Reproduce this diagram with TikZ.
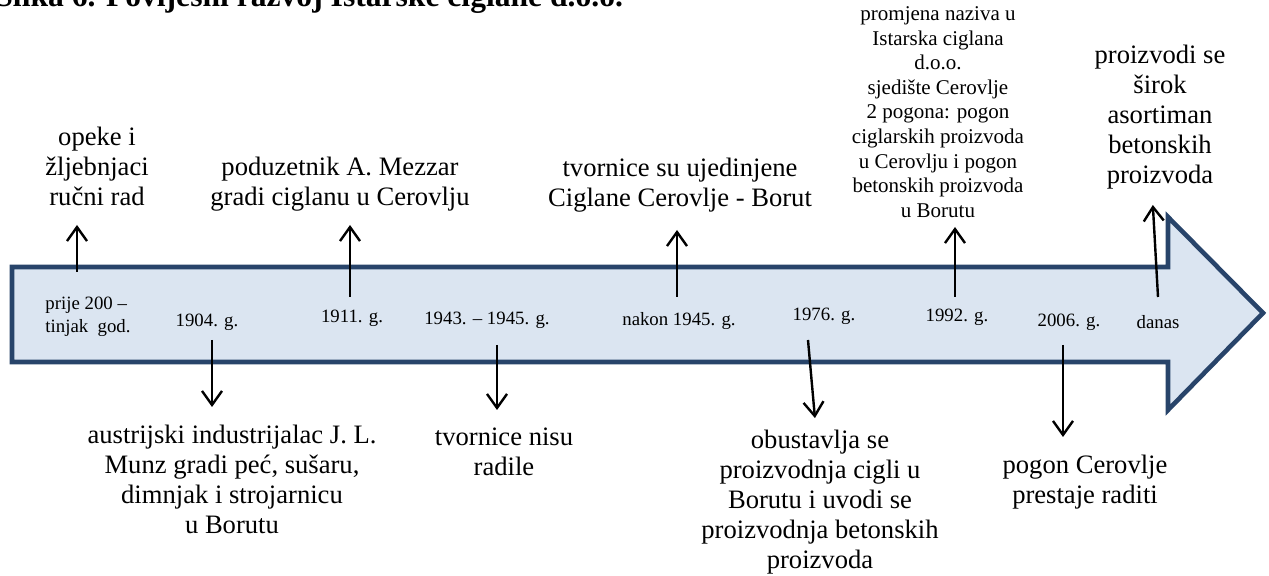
\documentclass[tikz,border=0pt]{standalone}
\usepackage{fontspec}
\setmainfont{Liberation Serif}
\usepackage{tikz}
\usetikzlibrary{arrows.meta}
\definecolor{rubstrelice}{HTML}{28446A}
\definecolor{punjenje}{HTML}{DBE5F1}

\begin{document}
\begin{tikzpicture}[x=0.5pt,y=-0.5pt,
	godina/.style={font=\fontsize{9.4}{11.5}\selectfont, inner sep=0pt},
	opis/.style={font=\fontsize{13.3}{15}\selectfont, align=center, inner sep=0pt},
	opismali/.style={font=\fontsize{10.5}{12.3}\selectfont, align=center, inner sep=0pt},
	strelica/.style={-{Straight Barb[length=7pt,width=10pt]}, line width=1.2pt}]
		\useasboundingbox (0,0) rectangle (1269,576);
		\clip (0,0) rectangle (1269,576);
		\node[anchor=base west, inner sep=0pt, font=\bfseries\fontsize{15.8}{18}\selectfont] (naslov) at (-5,7) {Slika 6. Povijesni razvoj Istarske ciglane d.o.o.};
		\filldraw[fill=punjenje, draw=rubstrelice, line width=2.3pt, line join=miter] (12,267) -- (1168,267) -- (1168,217) -- (1263,313) -- (1168,410) -- (1168,362) -- (12,362) -- cycle;
		\node[godina, align=left] (d1) at (88,317) {prije 200 –\\tinjak~ god.};
		\node[godina] (d2) at (207,322) {1904. g.};
		\node[godina] (d3) at (352,318) {1911. g.};
		\node[godina] (d4) at (487,320) {1943. – 1945. g.};
		\node[godina] (d5) at (679,321) {nakon 1945. g.};
		\node[godina] (d6) at (824,316) {1976. g.};
		\node[godina] (d7) at (957,317) {1992. g.};
		\node[godina] (d8) at (1069,322) {2006. g.};
		\node[godina] (d9) at (1158,322) {danas};
		\node[opis, anchor=south] (e1) at (97,206) {opeke i\\žljebnjaci\\ručni rad};
		\node[opis, anchor=south] (e2) at (340,212) {poduzetnik A. Mezzar\\gradi ciglanu u Cerovlju};
		\node[opis, anchor=south] (e3) at (680,213) {tvornice su ujedinjene\\Ciglane Cerovlje - Borut};
		\node[opismali, anchor=south] (e4) at (938,218) {promjena naziva u\\Istarska ciglana\\d.o.o.\\sjedište Cerovlje\\2 pogona: pogon\\ciglarskih proizvoda\\u Cerovlju i pogon\\betonskih proizvoda\\u Borutu};
		\node[opis, anchor=south] (e5) at (1160,190) {proizvodi se\\širok\\asortiman\\betonskih\\proizvoda};
		\node[opis, anchor=north] (e6) at (232,425) {austrijski industrijalac J. L.\\Munz gradi peć, sušaru,\\dimnjak i strojarnicu\\u Borutu};
		\node[opis, anchor=north] (e7) at (504,427) {tvornice nisu\\radile};
		\node[opis, anchor=north] (e8) at (820,430) {obustavlja se\\proizvodnja cigli u\\Borutu i uvodi se\\proizvodnja betonskih\\proizvoda};
		\node[opis, anchor=north] (e9) at (1085,455) {pogon Cerovlje\\prestaje raditi};
		\coordinate (k1) at (77,272);
		\coordinate (k2) at (212,340);
		\coordinate (k3) at (350,297);
		\coordinate (k4) at (497,345);
		\coordinate (k5) at (677,297);
		\coordinate (k6) at (808,340);
		\coordinate (k7) at (955,297);
		\coordinate (k8) at (1063,345);
		\coordinate (k9) at (1158,297);
		\draw[strelica, shorten >=9.5pt] (k1) -- (k1 |- e1.south);
		\draw[strelica, shorten >=9pt] (k2) -- (k2 |- e6.north);
		\draw[strelica, shorten >=6.5pt] (k3) -- (k3 |- e2.south);
		\draw[strelica, shorten >=8.5pt] (k4) -- (k4 |- e7.north);
		\draw[strelica, shorten >=8.5pt] (k5) -- (k5 |- e3.south);
		\draw[strelica, shorten >=6pt] (k6) -- ([xshift=-2pt]e8.north);
		\draw[strelica, shorten >=4.5pt] (k7) -- (k7 |- e4.south);
		\draw[strelica, shorten >=9pt] (k8) -- (k8 |- e9.north);
		\draw[strelica, shorten >=7.5pt] (k9) -- ([xshift=-4pt]e5.south);
	\end{tikzpicture}
\end{document}
